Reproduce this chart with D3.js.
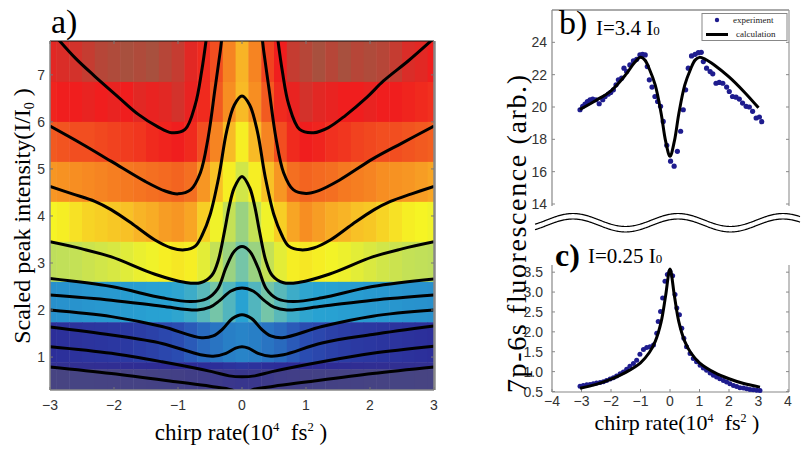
<!DOCTYPE html>
<html><head><meta charset="utf-8">
<script src="https://cdn.jsdelivr.net/npm/d3@7/dist/d3.min.js"></script>
<style>body{margin:0;background:#fff}svg{display:block}text{white-space:pre}</style>
</head><body><svg id="chart" width="804" height="450"></svg>
<script>
// ================= DATA =================
// Panel a: heat map (column centres in chirp rate, row edges in scaled intensity)
const heatCols = [-3.0,-2.8,-2.6,-2.4,-2.2,-2.0,-1.8,-1.6,-1.4,-1.2,-1.0,-0.8,-0.6,-0.4,-0.2,0,0.2,0.4,0.6,0.8,1.0,1.2,1.4,1.6,1.8,2.0,2.2,2.4,2.6,2.8,3.0];
const heatRowEdges = [7.72,6.85,6.00,5.15,4.30,3.45,2.60,1.74,0.89,0.74,0.30];
const heatRow0 = [9.6,9.65,9.7,9.8,9.9,9.95,10,9.95,10,9.9,9.8,9.6,9.4,9.1,8.6,8.0,8.6,9.2,9.5,9.8,9.9,10,9.9,10,9.9,9.95,9.9,9.8,9.65,9.6,9.5];
const heatRow1 = [9.45,9.5,9.5,9.55,9.5,9.55,9.5,9.6,9.55,9.6,9.7,9.55,9.4,9.0,8.5,7.9,8.5,9.0,9.4,9.55,9.7,9.6,9.55,9.5,9.5,9.55,9.5,9.5,9.45,9.4,9.35];
const heatRow2 = [9.0,9.05,9.1,9.1,9.15,9.2,9.25,9.3,9.4,9.45,9.5,9.4,9.1,8.6,7.9,7.1,7.9,8.6,9.1,9.4,9.5,9.45,9.35,9.3,9.2,9.15,9.1,9.1,9.05,9.0,8.95];
const heatRow3 = [8.4,8.45,8.5,8.55,8.6,8.65,8.7,8.75,8.8,8.85,8.9,8.8,8.4,7.8,7.1,6.4,7.1,7.8,8.4,8.8,8.9,8.85,8.8,8.7,8.65,8.6,8.5,8.45,8.4,8.3,8.2];
const heatRow4 = [7.0,7.1,7.3,7.5,7.6,7.7,7.8,8.0,8.1,8.3,8.4,8.2,7.6,6.9,6.2,5.6,6.2,6.9,7.6,8.2,8.5,8.3,8.1,8.0,7.8,7.7,7.5,7.3,7.1,7.0,6.9];
const heatRow5 = [6.1,6.15,6.2,6.3,6.4,6.5,6.65,6.8,6.9,7.1,7.2,7.1,6.7,6.2,5.6,5.1,5.6,6.2,6.7,7.1,7.2,7.1,6.95,6.85,6.7,6.55,6.4,6.3,6.2,6.15,6.1];
const heatRow6 = [3.4,3.45,3.5,3.6,3.65,3.7,3.8,3.85,3.95,4.0,4.1,4.3,4.7,5.1,4.6,4.0,4.6,5.1,4.7,4.3,4.1,4.0,3.95,3.85,3.8,3.7,3.65,3.6,3.5,3.45,3.4];
const heatRow7 = [1.1,1.15,1.2,1.25,1.3,1.35,1.4,1.5,1.6,1.75,1.9,2.2,2.5,2.7,2.9,3.0,2.9,2.7,2.5,2.2,1.9,1.75,1.6,1.5,1.4,1.35,1.3,1.25,1.2,1.15,1.1];
const heatRow8 = [0.8,0.8,0.82,0.84,0.85,0.86,0.88,0.9,0.92,0.94,0.95,1.0,1.05,1.1,1.2,1.3,1.2,1.1,1.05,1.0,0.95,0.94,0.92,0.9,0.88,0.86,0.85,0.84,0.82,0.8,0.8];
const heatRow9 = [0.1,0.1,0.12,0.12,0.14,0.15,0.16,0.18,0.2,0.22,0.25,0.3,0.35,0.45,0.55,0.6,0.55,0.45,0.35,0.3,0.25,0.22,0.2,0.18,0.16,0.15,0.14,0.12,0.12,0.1,0.1];
const heatRows = [heatRow0,heatRow1,heatRow2,heatRow3,heatRow4,heatRow5,heatRow6,heatRow7,heatRow8,heatRow9];

// Panel a: contour lines [chirp, intensity]
const contour1L = [[-2.9,7.8],[-2.6,7.35],[-2.3,6.97],[-1.95,6.55],[-1.62,6.16],[-1.32,5.9],[-1.1,5.77],[-0.89,5.84],[-0.73,6.37],[-0.63,7.08],[-0.55,7.85]];
const contour1R = [[0.55,7.85],[0.63,7.08],[0.73,6.37],[0.9,5.84],[1.12,5.77],[1.35,5.88],[1.62,6.14],[1.95,6.52],[2.21,6.87],[2.6,7.3],[3.0,7.78]];
const contour2L = [[-3.0,5.91],[-2.5,5.53],[-2.04,5.16],[-1.52,4.74],[-1.2,4.53],[-1.0,4.47],[-0.8,4.56],[-0.65,4.92],[-0.53,5.66],[-0.42,6.72],[-0.34,7.5],[-0.31,7.85]];
const contour2R = [[0.31,7.85],[0.34,7.5],[0.42,6.72],[0.53,5.66],[0.65,4.92],[0.8,4.56],[1.0,4.48],[1.2,4.54],[1.52,4.76],[2.05,5.22],[2.5,5.55],[3.0,5.91]];
const contour3 = [[-3,4.63],[-2.65,4.47],[-2.3,4.31],[-2.04,4.13],[-1.7,3.82],[-1.36,3.49],[-1.1,3.32],[-0.9,3.28],[-0.73,3.36],[-0.62,3.6],[-0.5,4.02],[-0.36,4.85],[-0.24,5.8],[-0.12,6.36],[0,6.55],[0.12,6.36],[0.24,5.8],[0.36,4.85],[0.5,4.02],[0.62,3.6],[0.73,3.36],[0.92,3.28],[1.12,3.32],[1.38,3.49],[1.72,3.82],[2.06,4.13],[2.32,4.31],[2.65,4.47],[3,4.63]];
const contour4 = [[-3,3.45],[-2.5,3.3],[-2.04,3.13],[-1.36,2.76],[-0.9,2.59],[-0.65,2.58],[-0.47,2.74],[-0.37,3.06],[-0.27,3.7],[-0.2,4.2],[-0.12,4.6],[0,4.84],[0.12,4.6],[0.2,4.2],[0.27,3.7],[0.37,3.06],[0.47,2.74],[0.65,2.58],[0.9,2.59],[1.36,2.76],[2.04,3.13],[2.5,3.3],[3,3.45]];
const contour5 = [[-3,2.67],[-2.04,2.5],[-1.25,2.26],[-0.8,2.18],[-0.55,2.24],[-0.38,2.45],[-0.25,2.9],[-0.12,3.25],[0,3.35],[0.12,3.25],[0.25,2.9],[0.38,2.45],[0.55,2.24],[0.8,2.18],[1.25,2.26],[2.04,2.5],[3,2.66]];
const contour6 = [[-3,2.32],[-2.04,2.21],[-1.25,2.08],[-0.7,2.0],[-0.5,2.06],[-0.35,2.2],[-0.18,2.4],[0,2.47],[0.18,2.4],[0.35,2.2],[0.5,2.06],[0.7,2.0],[1.25,2.08],[2.04,2.21],[3,2.32]];
const contour7 = [[-3,2.0],[-2.04,1.86],[-1.25,1.65],[-0.63,1.41],[-0.45,1.45],[-0.3,1.6],[-0.15,1.82],[0,1.9],[0.15,1.82],[0.3,1.6],[0.45,1.45],[0.63,1.41],[1.25,1.65],[2.04,1.87],[3,2.0]];
const contour8 = [[-3,1.64],[-2.04,1.47],[-1.25,1.29],[-0.65,1.05],[-0.45,1.02],[-0.25,1.08],[-0.1,1.19],[0,1.22],[0.1,1.19],[0.25,1.08],[0.45,1.02],[0.65,1.05],[1.25,1.3],[2.04,1.48],[3,1.66]];
const contour9 = [[-3,1.22],[-2.04,1.08],[-1.25,0.9],[-0.47,0.69],[-0.2,0.6],[0,0.58],[0.2,0.6],[0.47,0.69],[1.25,0.9],[2.04,1.08],[3,1.23]];
const contour10 = [[-3,0.79],[-2.04,0.65],[-1.0,0.47],[-0.5,0.38],[-0.16,0.3],[0,0.15],[0.16,0.3],[0.5,0.38],[1.0,0.47],[2.04,0.65],[3,0.79]];
const contours = [contour1L,contour1R,contour2L,contour2R,contour3,contour4,contour5,contour6,contour7,contour8,contour9,contour10];

const aXTicks = [-3,-2,-1,0,1,2,3];
const aYTicks = [1,2,3,4,5,6,7];

// Panel b: I = 3.4 I0
const expBx = [-3.05,-2.96,-2.88,-2.80,-2.71,-2.62,-2.51,-2.40,-2.28,-2.20,-2.09,-2.01,-1.92,-1.83,-1.75,-1.64,-1.56,-1.47,-1.36,-1.24,-1.13,-1.02,-0.93,-0.84,-0.77,-0.70,-0.61,-0.51,-0.42,-0.32,-0.23,-0.11,0.02,0.14,0.25,0.36,0.45,0.53,0.62,0.73,0.85,0.96,1.06,1.13,1.24,1.36,1.45,1.56,1.67,1.79,1.92,2.01,2.12,2.24,2.35,2.46,2.58,2.69,2.80,2.92,3.03,3.11];
const expBy = [19.83,20.04,20.18,20.34,20.45,20.49,20.45,20.20,20.45,20.65,20.80,20.90,21.06,21.37,21.68,21.78,22.40,22.19,22.60,22.85,22.95,23.22,23.26,23.22,22.50,21.68,21.23,20.65,20.34,20.04,19.11,17.63,16.65,16.34,17.26,18.50,19.83,21.06,22.40,23.16,23.26,23.36,23.38,22.81,22.40,22.19,22.05,21.47,21.52,21.47,21.23,20.96,20.65,20.61,20.49,20.24,20.04,20.00,19.73,19.32,19.38,19.09];
const calcBx = [-3.05,-2.5,-2.0,-1.5,-1.2,-1.0,-0.85,-0.7,-0.5,-0.3,-0.15,0,0.15,0.3,0.5,0.7,0.85,1.0,1.2,1.5,2.0,2.5,3.0];
const calcBy = [19.85,20.42,21.0,22.0,22.75,23.07,22.9,22.35,21.35,19.6,17.9,16.95,17.9,19.6,21.35,22.35,22.9,23.07,22.95,22.6,21.86,20.96,19.95];
const bYTicks = [14,16,18,20,22,24];

// Panel c: I = 0.25 I0
const expCx = [-3.05,-2.94,-2.82,-2.71,-2.60,-2.49,-2.37,-2.26,-2.15,-2.03,-1.92,-1.81,-1.69,-1.58,-1.47,-1.36,-1.24,-1.13,-1.02,-0.90,-0.79,-0.68,-0.56,-0.45,-0.40,-0.32,-0.25,-0.17,-0.09,0.00,0.09,0.17,0.23,0.32,0.40,0.47,0.56,0.68,0.79,0.90,1.02,1.13,1.24,1.36,1.47,1.58,1.69,1.81,1.92,2.03,2.15,2.26,2.37,2.49,2.60,2.71,2.82,2.94,3.05];
const expCy = [0.635,0.652,0.669,0.678,0.695,0.712,0.728,0.745,0.779,0.813,0.847,0.889,0.948,0.991,1.058,1.135,1.202,1.287,1.439,1.558,1.608,1.625,1.667,1.964,2.26,2.51,2.85,3.27,3.44,3.52,3.41,2.94,2.60,2.43,2.09,1.84,1.625,1.456,1.329,1.245,1.16,1.09,1.033,0.965,0.906,0.864,0.821,0.779,0.737,0.695,0.652,0.627,0.593,0.585,0.568,0.551,0.542,0.534,0.525];
const calcCx = [-3.05,-2.5,-2.0,-1.5,-1.0,-0.7,-0.5,-0.3,-0.15,0,0.15,0.3,0.5,0.7,1.0,1.5,2.0,2.5,3.05];
const calcCy = [0.58,0.68,0.81,0.98,1.22,1.48,1.76,2.25,2.9,3.58,2.9,2.25,1.76,1.48,1.22,0.98,0.82,0.70,0.61];
const cXTicks = [-4,-3,-2,-1,0,1,2,3,4];
const cYTicks = [0.5,1.0,1.5,2.0,2.5,3.0,3.5];

// ================= DRAWING =================
const svg = d3.select('#chart');
const serif = "'Liberation Serif','Times New Roman',serif";
const sans = "'Liberation Sans',Arial,sans-serif";
const fmtMinus = v => (v < 0 ? '\u2212' + Math.abs(v) : String(v));

// ---------- Panel a ----------
const xA = d3.scaleLinear().domain([-3, 3]).range([50, 434]);
const yA = d3.scaleLinear().domain([0.3, 7.72]).range([390, 41]);
const heatColor = d3.scaleLinear()
  .domain([0, 1, 2, 3, 4, 5, 6, 7, 8, 8.5, 9, 9.5, 10])
  .range(['#4a4780','#2c2a96','#2a50b4','#2884c8','#28a2d2','#6ec2b0','#b8dc62','#f6f424','#f8b426','#f78e22','#f25a20','#f01e1e','#a8503e'])
  .interpolate(d3.interpolateRgb).clamp(true);

svg.append('clipPath').attr('id', 'clipA').append('rect')
  .attr('x', xA(-3)).attr('y', yA(7.72)).attr('width', xA(3) - xA(-3)).attr('height', yA(0.3) - yA(7.72));

const gA = svg.append('g').attr('clip-path', 'url(#clipA)');
const colHalf = (heatCols[1] - heatCols[0]) / 2;
heatRows.forEach((row, r) => {
  gA.selectAll(null).data(row).enter().append('rect')
    .attr('x', (d, i) => xA(heatCols[i] - colHalf))
    .attr('width', (d, i) => xA(heatCols[i] + colHalf) - xA(heatCols[i] - colHalf) + 0.5)
    .attr('y', yA(heatRowEdges[r]))
    .attr('height', yA(heatRowEdges[r + 1]) - yA(heatRowEdges[r]) + 0.5)
    .attr('fill', d => heatColor(d));
});
const lineA = d3.line().x(d => xA(d[0])).y(d => yA(d[1])).curve(d3.curveCatmullRom.alpha(0.5));
gA.selectAll('path.contour').data(contours).enter().append('path')
  .attr('class', 'contour').attr('d', lineA)
  .attr('fill', 'none').attr('stroke', '#000').attr('stroke-width', 3).attr('stroke-linejoin', 'round');

// frame a
const fA = svg.append('g');
fA.append('line').attr('x1', xA(-3)).attr('x2', xA(3)).attr('y1', yA(7.72)).attr('y2', yA(7.72)).attr('stroke', '#111').attr('stroke-width', 1);
fA.append('line').attr('x1', xA(-3)).attr('x2', xA(-3)).attr('y1', yA(7.72)).attr('y2', yA(0.3)).attr('stroke', '#888').attr('stroke-width', 1.5);
fA.append('line').attr('x1', xA(3) + 0.5).attr('x2', xA(3) + 0.5).attr('y1', yA(7.72)).attr('y2', yA(0.3)).attr('stroke', '#888').attr('stroke-width', 2.5);
fA.append('line').attr('x1', xA(-3)).attr('x2', xA(3)).attr('y1', yA(0.3)).attr('y2', yA(0.3)).attr('stroke', '#888').attr('stroke-width', 1.5);
aXTicks.forEach(v => {
  fA.append('line').attr('x1', xA(v)).attr('x2', xA(v)).attr('y1', yA(7.72)).attr('y2', yA(7.72) + 3).attr('stroke', '#777');
  fA.append('line').attr('x1', xA(v)).attr('x2', xA(v)).attr('y1', yA(0.3)).attr('y2', yA(0.3) - 3).attr('stroke', '#777');
  fA.append('text').attr('x', xA(v)).attr('y', 410).attr('text-anchor', 'middle')
    .attr('font-family', sans).attr('font-size', 14).attr('fill', '#333').text(fmtMinus(v));
});
aYTicks.forEach(v => {
  fA.append('line').attr('x1', xA(-3)).attr('x2', xA(-3) + 3).attr('y1', yA(v)).attr('y2', yA(v)).attr('stroke', '#777');
  fA.append('line').attr('x1', xA(3)).attr('x2', xA(3) - 3).attr('y1', yA(v)).attr('y2', yA(v)).attr('stroke', '#777');
  fA.append('text').attr('x', 45).attr('y', yA(v) + 5).attr('text-anchor', 'end')
    .attr('font-family', sans).attr('font-size', 14).attr('fill', '#333').text(v);
});
svg.append('text').attr('x', 51).attr('y', 33).attr('font-family', serif).attr('font-size', 34).attr('fill', '#000').text('a)');
const yLabA = svg.append('text').attr('transform', 'translate(22,216) rotate(-90)').attr('text-anchor', 'middle')
  .attr('dy', '0.35em').attr('font-family', serif).attr('font-size', 24).attr('fill', '#000');
yLabA.append('tspan').text('Scaled peak intensity(I/I');
yLabA.append('tspan').attr('font-size', 14).attr('dy', 4).text('0');
yLabA.append('tspan').attr('dy', -4).text(' )');

function chirpLabel(x, y, size) {
  const t = svg.append('text').attr('x', x).attr('y', y).attr('text-anchor', 'middle')
    .attr('font-family', serif).attr('font-size', size).attr('fill', '#000');
  t.append('tspan').text('chirp rate(10');
  t.append('tspan').attr('font-size', size * 0.55).attr('dy', -size * 0.38).text('4');
  t.append('tspan').attr('dy', size * 0.38).text('  fs');
  t.append('tspan').attr('font-size', size * 0.55).attr('dy', -size * 0.38).text('2');
  t.append('tspan').attr('dy', size * 0.38).text(' )');
}
chirpLabel(241, 440, 23);

// ---------- Panels b & c ----------
const xBC = d3.scaleLinear().domain([-4, 4]).range([552, 788]);
const yB = d3.scaleLinear().domain([14, 26]).range([204, 10]);
const yC = d3.scaleLinear().domain([0.5, 3.61]).range([391.5, 267.8]);
const dotColor = '#1e1c8e';

// panel b frame
const gB = svg.append('g');
gB.append('line').attr('x1', 552).attr('x2', 789).attr('y1', 10).attr('y2', 10).attr('stroke', '#aaa').attr('stroke-width', 2);
gB.append('line').attr('x1', 552).attr('x2', 552).attr('y1', 10).attr('y2', 206).attr('stroke', '#888').attr('stroke-width', 1.2);
gB.append('line').attr('x1', 789).attr('x2', 789).attr('y1', 10).attr('y2', 206).attr('stroke', '#999').attr('stroke-width', 1.2);
bYTicks.forEach(v => {
  gB.append('line').attr('x1', 552).attr('x2', 555).attr('y1', yB(v)).attr('y2', yB(v)).attr('stroke', '#888');
  gB.append('line').attr('x1', 789).attr('x2', 786).attr('y1', yB(v)).attr('y2', yB(v)).attr('stroke', '#888');
  gB.append('text').attr('x', 547).attr('y', yB(v) + 5).attr('text-anchor', 'end')
    .attr('font-family', sans).attr('font-size', 14).attr('fill', '#333').text(v);
});
gB.selectAll('circle').data(expBx).enter().append('circle')
  .attr('cx', d => xBC(d)).attr('cy', (d, i) => yB(expBy[i])).attr('r', 2.6).attr('fill', dotColor);
const lineB = d3.line().x((d, i) => xBC(d)).y((d, i) => yB(calcBy[i])).curve(d3.curveCatmullRom.alpha(0.5));
gB.append('path').attr('d', lineB(calcBx)).attr('fill', 'none').attr('stroke', '#000').attr('stroke-width', 3);
svg.append('text').attr('x', 559).attr('y', 34).attr('font-family', serif).attr('font-size', 34).text('b)');
const tB = svg.append('text').attr('x', 596).attr('y', 35).attr('font-family', serif).attr('font-size', 21);
tB.append('tspan').text('I=3.4 I');
tB.append('tspan').attr('font-size', 13).text('0');
// legend
const lg = svg.append('g');
lg.append('rect').attr('x', 702).attr('y', 13.5).attr('width', 85).attr('height', 27).attr('fill', '#fff').attr('stroke', '#888').attr('stroke-width', 1);
lg.append('circle').attr('cx', 717).attr('cy', 20).attr('r', 2.2).attr('fill', dotColor);
lg.append('text').attr('x', 733).attr('y', 23).attr('font-family', serif).attr('font-size', 9).attr('fill', '#222').text('experiment');
lg.append('line').attr('x1', 706).attr('x2', 728).attr('y1', 34.5).attr('y2', 34.5).attr('stroke', '#000').attr('stroke-width', 3);
lg.append('text').attr('x', 736).attr('y', 37).attr('font-family', serif).attr('font-size', 9).attr('fill', '#222').text('calculation');

// axis break waves
const waveX = d3.range(535, 801, 1);
const waveLine = off => d3.line().x(d => d).y(d => off - 6.5 * Math.cos(2 * Math.PI * (d - 573) / 105)).curve(d3.curveLinear)(waveX);
svg.append('path').attr('d', waveLine(220)).attr('fill', 'none').attr('stroke', '#000').attr('stroke-width', 1.2);
svg.append('path').attr('d', waveLine(225.5)).attr('fill', 'none').attr('stroke', '#000').attr('stroke-width', 1.2);

// panel c frame
const gC = svg.append('g');
gC.append('line').attr('x1', 552).attr('x2', 552).attr('y1', 265).attr('y2', 392).attr('stroke', '#888').attr('stroke-width', 1.2);
gC.append('line').attr('x1', 789).attr('x2', 789).attr('y1', 265).attr('y2', 392).attr('stroke', '#999').attr('stroke-width', 1.2);
gC.append('line').attr('x1', 552).attr('x2', 789).attr('y1', 392).attr('y2', 392).attr('stroke', '#888').attr('stroke-width', 1.2);
cYTicks.forEach(v => {
  gC.append('line').attr('x1', 552).attr('x2', 555).attr('y1', yC(v)).attr('y2', yC(v)).attr('stroke', '#888');
  gC.append('line').attr('x1', 789).attr('x2', 786).attr('y1', yC(v)).attr('y2', yC(v)).attr('stroke', '#888');
  gC.append('text').attr('x', 543).attr('y', yC(v) + 5).attr('text-anchor', 'end')
    .attr('font-family', sans).attr('font-size', 14).attr('fill', '#333').text(v.toFixed(1));
});
cXTicks.forEach(v => {
  gC.append('line').attr('x1', xBC(v)).attr('x2', xBC(v)).attr('y1', 392).attr('y2', 389).attr('stroke', '#888');
  gC.append('text').attr('x', xBC(v)).attr('y', 406).attr('text-anchor', 'middle')
    .attr('font-family', sans).attr('font-size', 14).attr('fill', '#333').text(fmtMinus(v));
});
gC.selectAll('circle').data(expCx).enter().append('circle')
  .attr('cx', d => xBC(d)).attr('cy', (d, i) => yC(expCy[i])).attr('r', 2.5).attr('fill', dotColor);
const lineC = d3.line().x(d => xBC(d)).y((d, i) => yC(calcCy[i])).curve(d3.curveCatmullRom.alpha(0.5));
gC.append('path').attr('d', lineC(calcCx)).attr('fill', 'none').attr('stroke', '#000').attr('stroke-width', 3);
svg.append('text').attr('x', 555).attr('y', 266).attr('font-family', serif).attr('font-size', 32).attr('font-weight', 'bold').text('c)');
const tC = svg.append('text').attr('x', 588).attr('y', 263).attr('font-family', serif).attr('font-size', 21);
tC.append('tspan').text('I=0.25 I');
tC.append('tspan').attr('font-size', 13).text('0');
chirpLabel(677, 430, 22);

// shared y label for b/c
svg.append('text').attr('transform', 'translate(516,234) rotate(-90)').attr('text-anchor', 'middle').attr('dy', '0.35em')
  .attr('font-family', serif).attr('font-size', 28).attr('fill', '#000')
  .attr('textLength', 318).attr('lengthAdjust', 'spacing').text('7p-6s fluorescence (arb.)');
</script></body></html>
